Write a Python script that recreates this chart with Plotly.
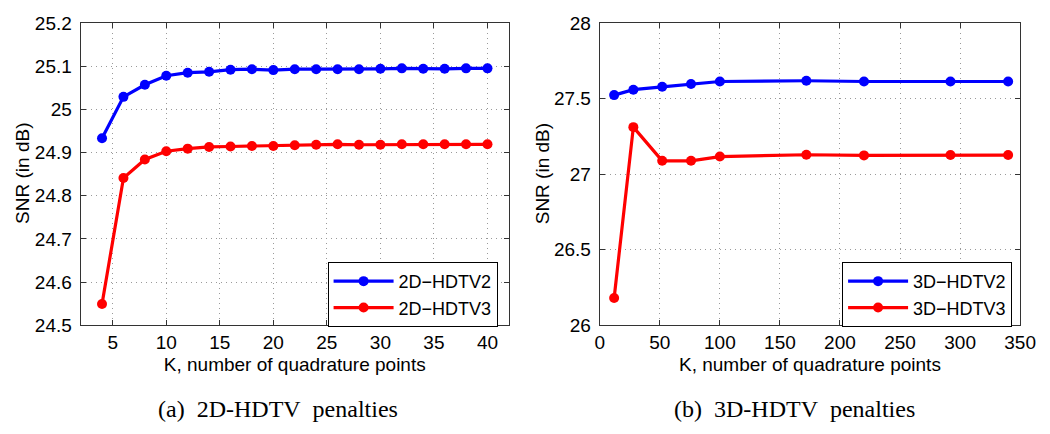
import plotly.graph_objects as go

# ---- data ----
k2d = [4, 6, 8, 10, 12, 14, 16, 18, 20, 22, 24, 26, 28, 30, 32, 34, 36, 38, 40]
snr_2d_hdtv2 = [24.933, 25.029, 25.057, 25.078, 25.085, 25.087, 25.092, 25.093, 25.091,
                25.093, 25.093, 25.093, 25.093, 25.094, 25.095, 25.094, 25.094, 25.095, 25.095]
snr_2d_hdtv3 = [24.549, 24.841, 24.884, 24.903, 24.909, 24.913, 24.914, 24.915, 24.915,
                24.917, 24.918, 24.919, 24.918, 24.918, 24.919, 24.919, 24.919, 24.919, 24.919]

k3d = [12, 28, 52, 76, 100, 172, 220, 292, 340]
snr_3d_hdtv2 = [27.523, 27.559, 27.578, 27.597, 27.613, 27.618, 27.613, 27.613, 27.613]
snr_3d_hdtv3 = [26.18, 27.311, 27.088, 27.088, 27.116, 27.128, 27.124, 27.126, 27.126]

ticks_2d_x = [5, 10, 15, 20, 25, 30, 35, 40]
ticks_2d_y = [24.5, 24.6, 24.7, 24.8, 24.9, 25.0, 25.1, 25.2]
ticklabels_2d_y = ["24.5", "24.6", "24.7", "24.8", "24.9", "25", "25.1", "25.2"]
ticks_3d_x = [0, 50, 100, 150, 200, 250, 300, 350]
ticks_3d_y = [26, 26.5, 27, 27.5, 28]
ticklabels_3d_y = ["26", "26.5", "27", "27.5", "28"]

names_2d = ["2D\u2212HDTV2", "2D\u2212HDTV3"]
names_3d = ["3D\u2212HDTV2", "3D\u2212HDTV3"]
captions = ["(a)\u00a0 2D-HDTV\u00a0 penalties", "(b)\u00a0 3D-HDTV\u00a0 penalties"]
xtitle = "K, number of quadrature points"
ytitle = "SNR (in dB)"

BLUE = "#0000ff"
RED = "#ff0000"
W, H = 1050, 434
SANS = "Liberation Sans, Arial, sans-serif"
SERIF = "Liberation Serif, Times New Roman, serif"

fig = go.Figure()

def add(x, y, name, color, xa, ya, legend):
    fig.add_trace(go.Scatter(
        x=x, y=y, name=name, mode="lines+markers",
        line=dict(color=color, width=3.2),
        marker=dict(color=color, size=10),
        xaxis=xa, yaxis=ya, legend=legend))

add(k2d, snr_2d_hdtv2, names_2d[0], BLUE, "x", "y", "legend")
add(k2d, snr_2d_hdtv3, names_2d[1], RED, "x", "y", "legend")
add(k3d, snr_3d_hdtv2, names_3d[0], BLUE, "x2", "y2", "legend2")
add(k3d, snr_3d_hdtv3, names_3d[1], RED, "x2", "y2", "legend2")

ydom = [1 - 322.8 / H, 1 - 5.3 / H]
axis_common = dict(
    showline=True, linecolor="#333333", linewidth=1, mirror="allticks",
    ticks="inside", ticklen=5, tickcolor="#333333",
    showgrid=True, gridcolor="#9a9a9a", griddash="1px,4px", gridwidth=1,
    zeroline=False, tickfont=dict(family=SANS, size=19, color="black"),
    title_font=dict(family=SANS, size=19, color="black"),
    ticklabeloverflow="allow",
)

fig.update_layout(
    width=W, height=H,
    margin=dict(l=0, r=0, t=0, b=0),
    paper_bgcolor="white", plot_bgcolor="white",
    showlegend=True,
    xaxis=dict(domain=[69 / W, 506 / W], range=[2, 42], tickvals=ticks_2d_x,
               anchor="y", title=dict(text=xtitle, standoff=5), **axis_common),
    yaxis=dict(domain=ydom, range=[24.5, 25.2], tickvals=ticks_2d_y,
               ticktext=ticklabels_2d_y, anchor="x", ticklabelstandoff=4,
               **axis_common),
    xaxis2=dict(domain=[598.7 / W, 1027.7 / W], range=[0, 350], tickvals=ticks_3d_x,
                anchor="y2", title=dict(text=xtitle, standoff=5), **axis_common),
    yaxis2=dict(domain=ydom, range=[26, 28], tickvals=ticks_3d_y,
                ticktext=ticklabels_3d_y, anchor="x2", ticklabelstandoff=4,
                **axis_common),
    legend=dict(x=321 / W, y=1 - 290.5 / H, xanchor="left", yanchor="middle",
                bgcolor="white", bordercolor="black", borderwidth=1,
                font=dict(family=SANS, size=18, color="black"),
                itemwidth=60, tracegroupgap=0),
    legend2=dict(x=846 / W, y=1 - 290.5 / H, xanchor="left", yanchor="middle",
                 bgcolor="white", bordercolor="black", borderwidth=1,
                 font=dict(family=SANS, size=18, color="black"),
                 itemwidth=60, tracegroupgap=0),
    annotations=[
        dict(text=ytitle, x=9.5 / W, y=1 - 163.5 / H, xref="paper", yref="paper",
             showarrow=False, xanchor="center", yanchor="middle", textangle=-90,
             font=dict(family=SANS, size=19, color="black")),
        dict(text=ytitle, x=540.5 / W, y=1 - 163.5 / H, xref="paper", yref="paper",
             showarrow=False, xanchor="center", yanchor="middle", textangle=-90,
             font=dict(family=SANS, size=19, color="black")),
        dict(text=captions[0], x=270 / W, y=1 - 411 / H, xref="paper", yref="paper",
             showarrow=False, xanchor="center", yanchor="middle",
             font=dict(family=SERIF, size=24, color="black")),
        dict(text=captions[1], x=797 / W, y=1 - 411 / H, xref="paper", yref="paper",
             showarrow=False, xanchor="center", yanchor="middle",
             font=dict(family=SERIF, size=24, color="black")),
    ],
)

fig.write_html("out.html")
